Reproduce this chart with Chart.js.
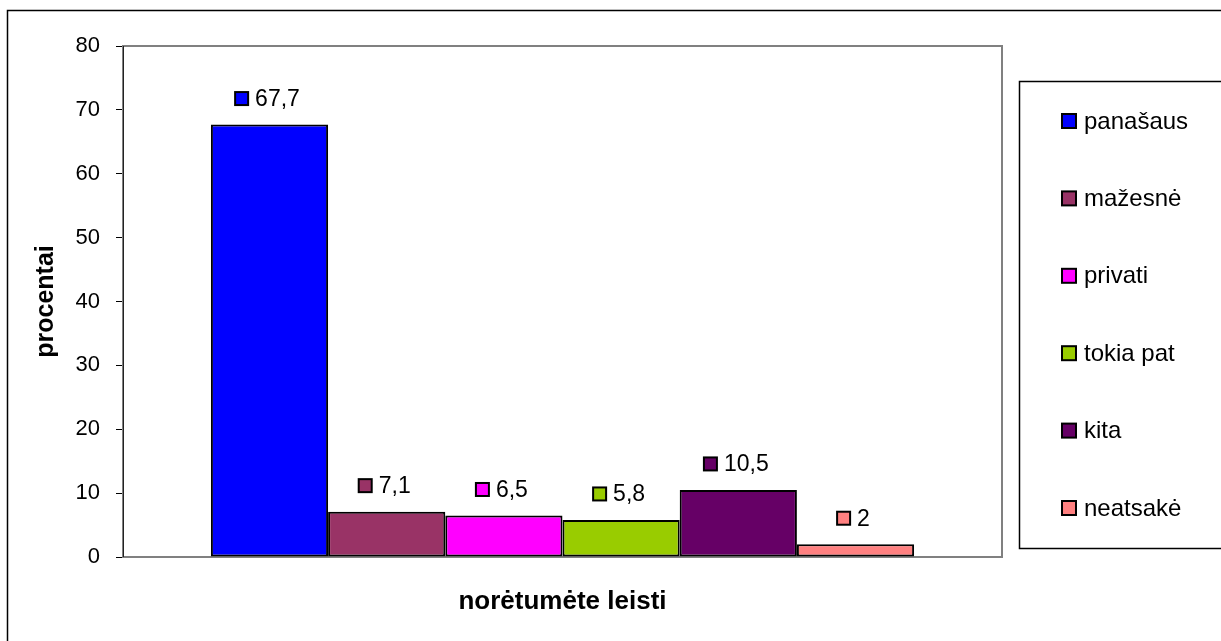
<!DOCTYPE html>
<html>
<head>
<meta charset="utf-8">
<script src="https://cdn.jsdelivr.net/npm/chart.js"></script>
<style>
  html, body { margin: 0; padding: 0; background: #fff; overflow: hidden; }
  #wrap { width: 1221px; height: 641px; }
</style>
</head>
<body>
<div id="wrap"><canvas id="chart" width="1221" height="641"></canvas></div>
<script>
// Duomenys
const categories = [''];
const seriesLabels = ['panašaus', 'mažesnė', 'privati', 'tokia pat', 'kita', 'neatsakė'];
const seriesValues = [67.7, 7.1, 6.5, 5.8, 10.5, 2];
const seriesColors = ['#0000FF', '#993366', '#FF00FF', '#99CC00', '#660066', '#FF8080'];
const yMin = 0;
const yMax = 80;
const yStep = 10;
const xTitle = 'norėtumėte leisti';
const yTitle = 'procentai';

const FONT = 'Arial, "Liberation Sans", sans-serif';

function fmt(v) {
    return String(v).replace('.', ',');
}

// Rėmeliai: išorinis, braižymo sritis
const framePlugin = {
    id: 'frames',
    beforeDraw(chart) {
        const ctx = chart.ctx;
        ctx.save();
        ctx.strokeStyle = '#000';
        ctx.lineWidth = 1.5;
        ctx.strokeRect(7.5, 10.5, 1300, 700);
        ctx.restore();
    },
    beforeDatasetsDraw(chart) {
        const ctx = chart.ctx;
        const a = chart.chartArea;
        ctx.save();
        ctx.strokeStyle = '#808080';
        ctx.lineWidth = 2;
        ctx.strokeRect(a.left, a.top, a.right - a.left, a.bottom - a.top);
        ctx.strokeStyle = '#222';
        ctx.lineWidth = 1;
        ctx.beginPath();
        ctx.moveTo(a.left + 0.5, a.top);
        ctx.lineTo(a.left + 0.5, a.bottom);
        ctx.stroke();
        ctx.restore();
    }
};

// Reikšmių žymos virš stulpelių
const labelPlugin = {
    id: 'valueLabels',
    afterDatasetsDraw(chart) {
        const ctx = chart.ctx;
        ctx.save();
        ctx.font = '23px ' + FONT;
        ctx.textBaseline = 'middle';
        ctx.textAlign = 'left';
        chart.data.datasets.forEach((ds, i) => {
            const bar = chart.getDatasetMeta(i).data[0];
            const text = fmt(ds.data[0]);
            const tw = ctx.measureText(text).width;
            const box = 13;
            const gap = 7;
            const total = box + gap + tw;
            const x0 = bar.x - total / 2 - 2;
            const y = bar.y - 26;
            ctx.fillStyle = ds.backgroundColor;
            ctx.fillRect(x0, y - box / 2, box, box);
            ctx.strokeStyle = '#000';
            ctx.lineWidth = 2;
            ctx.strokeRect(x0, y - box / 2, box, box);
            ctx.fillStyle = '#000';
            ctx.fillText(text, x0 + box + gap, y + 1);
        });
        ctx.restore();
    }
};

// Legenda dešinėje
const legendPlugin = {
    id: 'sideLegend',
    afterDraw(chart) {
        const ctx = chart.ctx;
        const a = chart.chartArea;
        const left = a.right + 17;
        const top = 81;
        const bottom = 548;
        ctx.save();
        ctx.strokeStyle = '#000';
        ctx.lineWidth = 1.5;
        ctx.strokeRect(left + 0.5, top + 0.5, 400, bottom - top);
        const mid = (top + bottom) / 2;
        const step = 77.4;
        const n = chart.data.datasets.length;
        ctx.font = '24px ' + FONT;
        ctx.textBaseline = 'middle';
        chart.data.datasets.forEach((ds, i) => {
            const y = mid + (i - (n - 1) / 2) * step;
            const bx = left + 43;
            ctx.fillStyle = ds.backgroundColor;
            ctx.fillRect(bx, y - 7, 14, 14);
            ctx.strokeStyle = '#000';
            ctx.lineWidth = 2;
            ctx.strokeRect(bx, y - 7, 14, 14);
            ctx.fillStyle = '#000';
            ctx.fillText(ds.label, bx + 22, y + 1);
        });
        ctx.restore();
    }
};

const datasets = seriesLabels.map((label, i) => ({
    label: label,
    data: [seriesValues[i]],
    backgroundColor: seriesColors[i],
    borderColor: '#000',
    borderWidth: 2,
    borderSkipped: false,
    barPercentage: 1,
    categoryPercentage: 0.8
}));

new Chart(document.getElementById('chart'), {
    type: 'bar',
    data: { labels: categories, datasets: datasets },
    options: {
        responsive: false,
        animation: false,
        layout: { padding: { left: 0, top: 46, right: 219, bottom: 0 } },
        plugins: {
            legend: { display: false },
            tooltip: { enabled: false }
        },
        scales: {
            x: {
                grid: { display: false },
                border: { display: false },
                ticks: { display: false },
                title: {
                    display: true,
                    text: xTitle,
                    color: '#000',
                    font: { family: FONT, size: 26, weight: 'bold' },
                    padding: { top: 0, bottom: 24 }
                },
                afterFit(scale) { scale.height = 84; }
            },
            y: {
                min: yMin,
                max: yMax,
                ticks: {
                    stepSize: yStep,
                    color: '#000',
                    padding: 16,
                    font: { family: FONT, size: 22 }
                },
                grid: {
                    drawOnChartArea: false,
                    drawTicks: true,
                    tickLength: 7,
                    color: '#000'
                },
                border: { display: true, color: '#222', width: 1 },
                title: {
                    display: true,
                    text: yTitle,
                    color: '#000',
                    font: { family: FONT, size: 25, weight: 'bold' },
                    padding: { top: 31, bottom: 0 }
                },
                afterFit(scale) { scale.width = 123; }
            }
        }
    },
    plugins: [framePlugin, labelPlugin, legendPlugin]
});
</script>
</body>
</html>
